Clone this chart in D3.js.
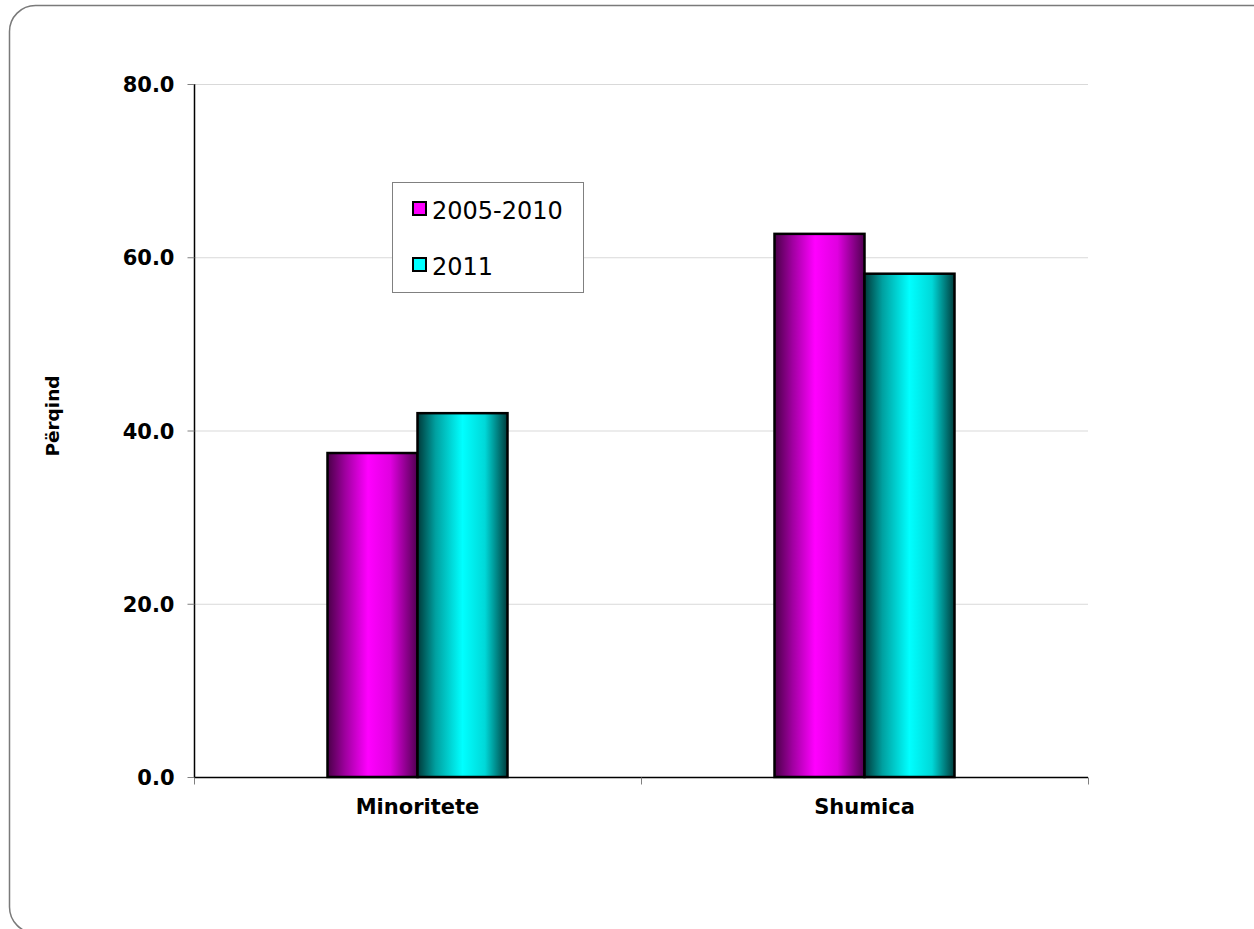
<!DOCTYPE html>
<html>
<head>
<meta charset="utf-8">
<script src="https://cdn.jsdelivr.net/npm/d3@7"></script>
<style>
  html, body { margin: 0; padding: 0; background: #fff; }
  svg { display: block; }
  text { font-family: "DejaVu Sans", Verdana, sans-serif; }
</style>
</head>
<body>
<svg id="chart" width="1254" height="929"></svg>
<script>
const categories = ["Minoritete", "Shumica"];
const seriesNames = ["2005-2010", "2011"];
const values2005_2010 = [37.4, 62.7];
const values2011 = [42.0, 58.1];
const yTicks = [0, 20, 40, 60, 80];
const yTitle = "Përqind";

const svg = d3.select("#chart");
const margin = { left: 194, right: 1254 - 1088, top: 84, bottom: 929 - 777 };
const W = 1254, H = 929;

// outer rounded frame
svg.append("rect")
  .attr("x", 9.5).attr("y", 5.5)
  .attr("width", 1270).attr("height", 927.5)
  .attr("rx", 26).attr("ry", 26)
  .attr("fill", "none").attr("stroke", "#7a7a7a").attr("stroke-width", 1.5);

const defs = svg.append("defs");
function grad(id, stops) {
  const g = defs.append("linearGradient").attr("id", id)
    .attr("x1", "0%").attr("x2", "100%").attr("y1", "0%").attr("y2", "0%");
  stops.forEach(s => g.append("stop").attr("offset", s[0]).attr("stop-color", s[1]));
}
grad("gMag", [["0%", "#4a0048"], ["20%", "#a000a0"], ["45%", "#ff00ff"], ["70%", "#e000e0"], ["100%", "#500050"]]);
grad("gCyan", [["0%", "#003a3a"], ["20%", "#00a0a0"], ["50%", "#00ffff"], ["75%", "#00d8d8"], ["100%", "#003c3c"]]);
const fills = ["url(#gMag)", "url(#gCyan)"];
const swatchFills = ["#ff00ff", "#00ffff"];

const x0 = d3.scaleBand().domain(categories)
  .range([margin.left, W - margin.right]).paddingInner(0).paddingOuter(0);
const y = d3.scaleLinear().domain([0, 80]).range([H - margin.bottom, margin.top]);

// gridlines
svg.append("g").selectAll("line").data(yTicks.filter(d => d > 0)).join("line")
  .attr("x1", margin.left).attr("x2", W - margin.right)
  .attr("y1", d => y(d) + 0.5).attr("y2", d => y(d) + 0.5)
  .attr("stroke", "#d9d9d9").attr("stroke-width", 1);

// bars
const groupW = 180;
const x1 = d3.scaleBand().domain(seriesNames).range([0, groupW]);
const data = categories.map((c, i) => ({ cat: c, vals: [values2005_2010[i], values2011[i]] }));
const gBars = svg.append("g");
data.forEach(d => {
  const gx = x0(d.cat) + x0.bandwidth() / 2 - groupW / 2;
  d.vals.forEach((v, j) => {
    gBars.append("rect")
      .attr("x", gx + x1(seriesNames[j]))
      .attr("y", y(v))
      .attr("width", x1.bandwidth())
      .attr("height", y(0) - y(v))
      .attr("fill", fills[j])
      .attr("stroke", "#000").attr("stroke-width", 2.5);
  });
});

// y axis
const yAxis = d3.axisLeft(y).tickValues(yTicks).tickFormat(d3.format(".1f")).tickSize(7).tickPadding(13);
const gy = svg.append("g").attr("transform", `translate(${margin.left + 0.5},0)`).call(yAxis);
gy.select(".domain").attr("stroke", "#000").attr("stroke-width", 1.5).attr("d", `M0,${y(80)}V${y(0)}`);
gy.selectAll(".tick line").attr("stroke", "#808080");
gy.selectAll(".tick text").attr("fill", "#000").style("font-size", "21px").style("font-weight", "bold")
  .style("font-family", '"DejaVu Sans", Verdana, sans-serif').attr("dy", "0.36em");

// x axis
const xEdges = [margin.left, ...categories.map(c => x0(c) + x0.bandwidth())];
const gx = svg.append("g").attr("transform", `translate(0,${y(0) + 0.5})`);
gx.append("line").attr("x1", margin.left).attr("x2", W - margin.right)
  .attr("y1", 0).attr("y2", 0).attr("stroke", "#000").attr("stroke-width", 1.5);
gx.selectAll("line.t").data(xEdges).join("line").attr("class", "t")
  .attr("x1", d => d + 0.5).attr("x2", d => d + 0.5).attr("y1", 0).attr("y2", 7)
  .attr("stroke", "#808080");
gx.selectAll("text").data(categories).join("text")
  .attr("x", d => x0(d) + x0.bandwidth() / 2).attr("y", 36)
  .attr("text-anchor", "middle").style("font-size", "21px").style("font-weight", "bold")
  .attr("fill", "#000").text(d => d);

// y title
svg.append("text")
  .attr("transform", "translate(59,416) rotate(-90)")
  .attr("text-anchor", "middle").style("font-size", "18.5px").style("font-weight", "bold")
  .attr("fill", "#000").text(yTitle);

// legend
const lg = svg.append("g");
lg.append("rect").attr("x", 392.5).attr("y", 182.5).attr("width", 191).attr("height", 110)
  .attr("fill", "#fff").attr("stroke", "#808080").attr("stroke-width", 1);
seriesNames.forEach((s, i) => {
  const yy = 202 + i * 56;
  lg.append("rect").attr("x", 413).attr("y", yy).attr("width", 13).attr("height", 13)
    .attr("fill", swatchFills[i]).attr("stroke", "#000").attr("stroke-width", 2);
  lg.append("text").attr("x", 432).attr("y", yy + 16.5)
    .style("font-size", "24px").attr("fill", "#000").text(s);
});
</script>
</body>
</html>
